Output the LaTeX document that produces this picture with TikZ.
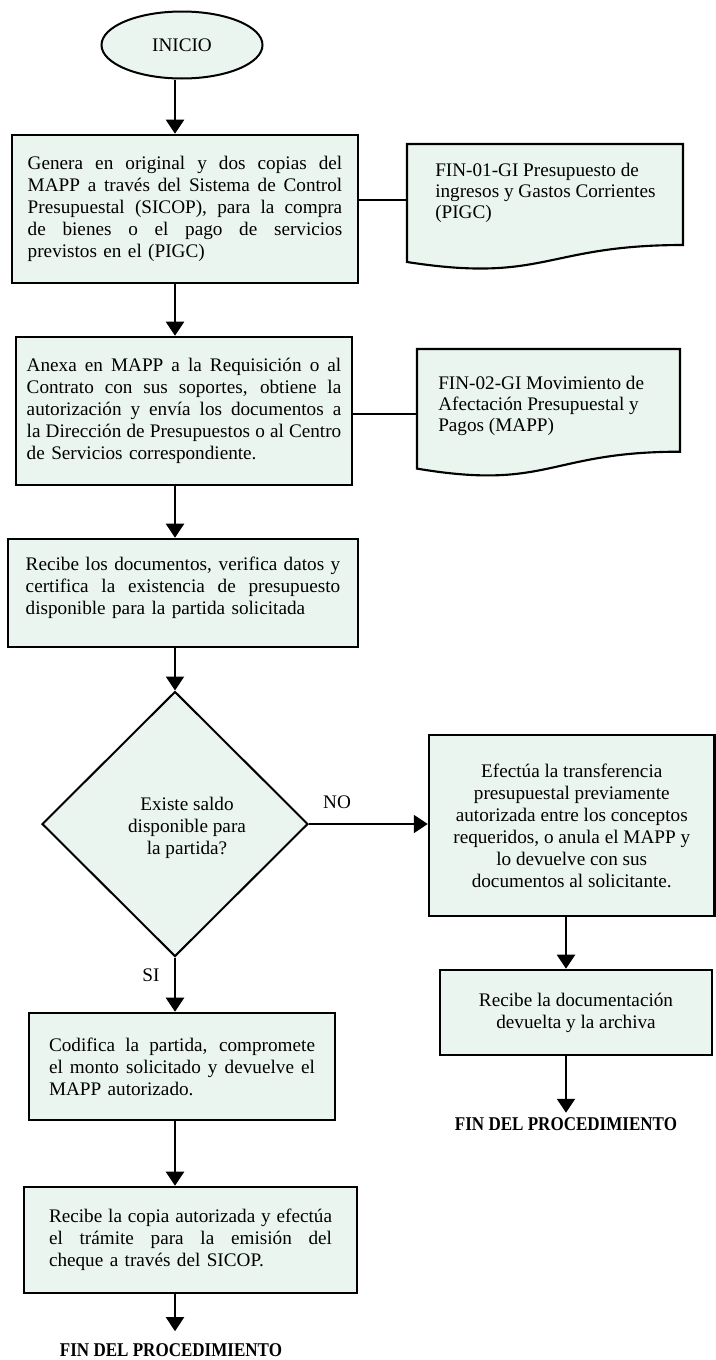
\documentclass[tikz,border=0pt]{standalone}
\usepackage{fontspec}
\setmainfont{Liberation Serif}
\newfontfamily\finfont{Liberation Serif}[FakeStretch=0.875]
\usetikzlibrary{shapes.geometric,arrows.meta}
\definecolor{boxfill}{RGB}{235,245,240}
% one justified line, spread over the full text width
\newcommand{\jline}[1]{\makebox[\hsize][s]{\spaceskip=0pt\xspaceskip=0pt #1}}
\newcommand{\basefont}{\fontsize{14.4}{16.5}\selectfont}
\newcommand{\docfont}{\fontsize{14.4}{15.6}\selectfont}
\begin{document}
\begin{tikzpicture}[x=0.75pt,y=-0.75pt,
  every node/.style={font=\basefont},
  proc/.style={draw, line width=1.9pt, fill=boxfill, rectangle, inner sep=0pt, align=left},
  cproc/.style={draw, line width=1.9pt, fill=boxfill, rectangle, inner sep=0pt, align=center},
  docline/.style={draw, line width=1.6pt, fill=boxfill},
  arr/.style={line width=1.5pt, -{Triangle[width=13.5pt,length=10.5pt]}},
  conn/.style={line width=1.5pt},
  finlabel/.style={font=\finfont\bfseries\fontsize{14.6}{16.5}\selectfont}
]
\useasboundingbox (0,0) rectangle (716,1360);

% start
\node[draw, ellipse, line width=1.5pt, fill=boxfill, minimum width=120.75pt,
      minimum height=50.25pt, inner sep=0pt] (inicio) at (182,45) {INICIO};

% main column
\node[proc, minimum width=259.5pt, minimum height=111pt, text width=235.9pt] (box1) at (185,209)
  {\jline{Genera en original y dos copias del}\\
   \jline{MAPP a través del Sistema de Control}\\
   \jline{Presupuestal (SICOP), para la compra}\\
   \jline{de bienes o el pago de servicios}\\
   previstos en el (PIGC)};

\node[proc, minimum width=252pt, minimum height=111pt, text width=235.9pt] (box2) at (184,411)
  {\jline{Anexa en MAPP a la Requisición o al}\\
   \jline{Contrato con sus soportes, obtiene la}\\
   \jline{autorización y envía los documentos a}\\
   \jline{la Dirección de Presupuestos o al Centro}\\
   de Servicios correspondiente.};

\node[proc, minimum width=262.5pt, minimum height=81pt, text width=235.9pt] (box3) at (183,593)
  {\jline{Recibe los documentos, verifica datos y}\\
   \jline{certifica la existencia de presupuesto}\\
   disponible para la partida solicitada\par\vspace*{-6pt}\mbox{}};

\node[draw, diamond, line width=1.5pt, fill=boxfill, minimum width=199.5pt,
      minimum height=198.75pt, inner sep=0pt] (dia) at (175,824) {};
\node[align=center, inner sep=0pt] (diatext) at (187,828)
  {Existe saldo\\disponible para\\la partida?};

\node[proc, minimum width=229.5pt, minimum height=80.25pt, text width=199.5pt] (box6) at (182,1066.5)
  {\jline{Codifica la partida, compromete}\\
   \jline{el monto solicitado y devuelve el}\\
   MAPP autorizado.};

\node[proc, minimum width=249.75pt, minimum height=79.5pt, text width=212.25pt] (box7) at (190.5,1240)
  {\jline{Recibe la copia autorizada y efectúa}\\
   \jline{el trámite para la emisión del}\\
   cheque a través del SICOP.};

\node[finlabel, inner ysep=9pt] (finL) at (171,1350) {FIN DEL PROCEDIMIENTO};

% right column
\node[cproc, minimum width=214.1pt, minimum height=135.75pt] (box4) at (571.75,825.5)
  {Efectúa la transferencia\\presupuestal previamente\\autorizada entre los conceptos\\
   requeridos, o anula el MAPP y\\lo devuelve con sus\\documentos al solicitante.};

\node[cproc, minimum width=204pt, minimum height=63.75pt] (box5) at (576,1012.5)
  {Recibe la documentación\\devuelta y la archiva};

\node[finlabel] (finR) at (566,1124) {FIN DEL PROCEDIMIENTO};

% documents
\draw[docline] (407,144) -- (683,144) -- (683,245)
  .. controls (545,245) and (545,283.5) .. (407,262) -- cycle;
\node[anchor=west, align=left, inner sep=0pt, font=\docfont] (doc1) at (435,193)
  {FIN-01-GI Presupuesto de\\ingresos y Gastos Corrientes\\(PIGC)};
\coordinate (d1in) at (407,200);

\draw[docline] (417,349) -- (680,349) -- (680,451.7)
  .. controls (548.5,451.7) and (548.5,490.8) .. (417,468.6) -- cycle;
\node[anchor=west, align=left, inner sep=0pt, font=\docfont] (doc2) at (438,406)
  {FIN-02-GI Movimiento de\\Afectación Presupuestal y\\Pagos (MAPP)};
\coordinate (d2in) at (417,414);

% connectors
\draw[arr] (inicio.south -| dia) -- (box1.north -| dia);
\draw[conn] (box1.east |- d1in) -- (d1in);
\draw[arr] (box1.south -| dia) -- (box2.north -| dia);
\draw[conn] (box2.east |- d2in) -- (d2in);
\draw[arr] (box2.south -| dia) -- (box3.north -| dia);
\draw[arr] (box3.south -| dia) -- (dia.north);
\draw[arr] (dia.east) -- (box4.west |- dia.east);
\draw[arr] (dia.south) -- (box6.north -| dia);
\draw[arr] (box6.south -| dia) -- (box7.north -| dia);
\draw[arr] (box7.south -| dia) -- (finL.north -| dia);
\draw[arr] (box4.south -| finR) -- (box5.north -| finR);
\draw[arr] (box5.south -| finR) -- (finR.north);

% branch labels
\node (no) at (337,802) {NO};
\node (si) at (151,975) {SI};
\end{tikzpicture}
\end{document}
